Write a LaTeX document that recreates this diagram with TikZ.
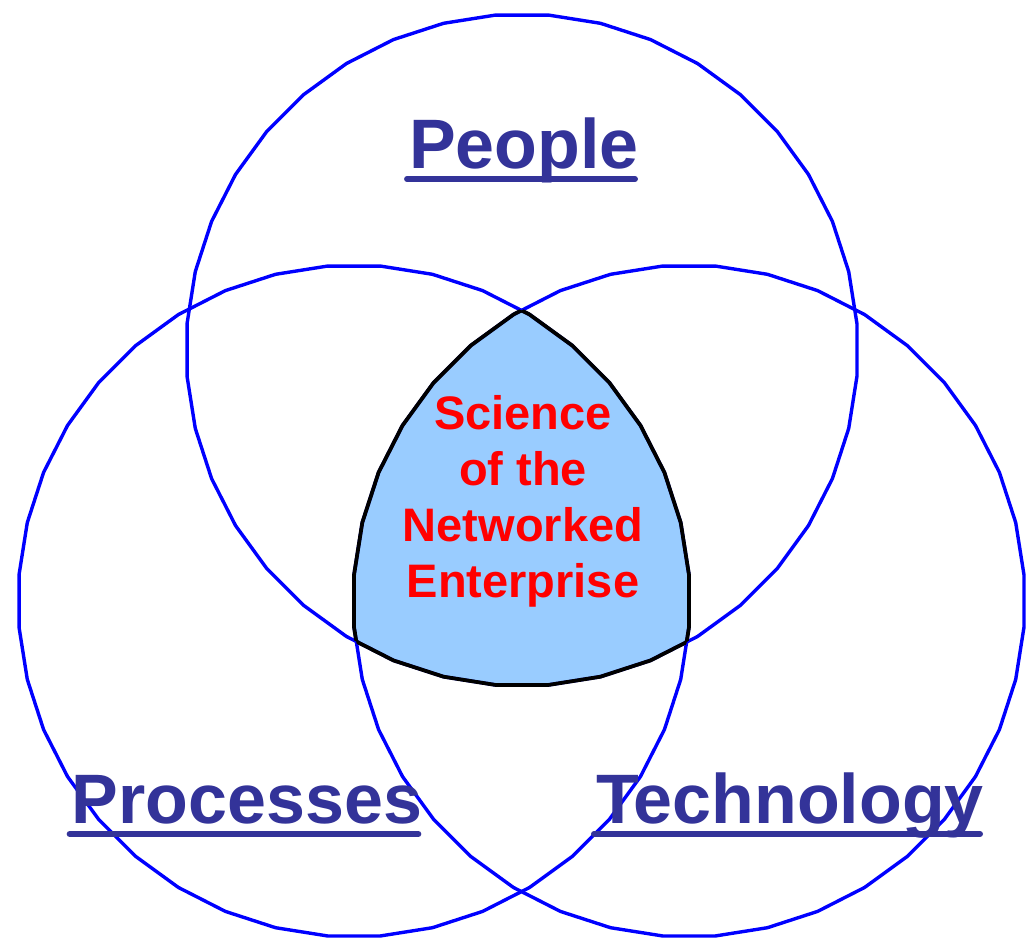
\documentclass[tikz,border=0pt]{standalone}
\usepackage{fontspec}
\setmainfont{Liberation Sans}
\definecolor{ringblue}{HTML}{0000FF}
\definecolor{labblue}{HTML}{333399}
\definecolor{corefill}{HTML}{99CCFF}
\definecolor{corered}{HTML}{FF0000}
\newcommand\vennpoly[2]{plot[samples=41,domain=4.5:364.5,variable=\t]({#1+336*cos(\t)},{#2+336*sin(\t)})}
\begin{document}
\begin{tikzpicture}[x=1pt,y=-1pt,
  ring/.style={draw=ringblue,line width=3.4pt,line join=round},
  edge/.style={draw=black,line width=3.8pt,line join=round},
  lab/.style={text=labblue,font=\fontsize{70}{80}\selectfont\bfseries,inner sep=0pt,anchor=base},
  ul/.style={draw=labblue,line width=6pt,line cap=round},
  core/.style={text=corered,font=\fontsize{47}{56}\selectfont\bfseries,align=center,inner sep=0pt,anchor=north}]
\useasboundingbox (0,0) rectangle (1026,948);
\fill[white] (0,0) rectangle (1026,948);
% filled core region
\begin{scope}
  \clip \vennpoly{522}{350} -- cycle;
  \clip \vennpoly{354}{601} -- cycle;
  \fill[corefill] \vennpoly{689}{601} -- cycle;
\end{scope}
% circles
\draw[ring] \vennpoly{522}{350} -- cycle;
\draw[ring] \vennpoly{354}{601} -- cycle;
\draw[ring] \vennpoly{689}{601} -- cycle;
% black outline of the core
\begin{scope}
  \clip \vennpoly{522}{350} -- cycle;
  \clip \vennpoly{354}{601} -- cycle;
  \draw[edge] \vennpoly{689}{601} -- cycle;
\end{scope}
\begin{scope}
  \clip \vennpoly{522}{350} -- cycle;
  \clip \vennpoly{689}{601} -- cycle;
  \draw[edge] \vennpoly{354}{601} -- cycle;
\end{scope}
\begin{scope}
  \clip \vennpoly{354}{601} -- cycle;
  \clip \vennpoly{689}{601} -- cycle;
  \draw[edge] \vennpoly{522}{350} -- cycle;
\end{scope}
% labels
\node[lab] (people) at (524,168) {People};
\node[lab] (proc) at (247,823) {Processes};
\node[lab] (tech) at (790,823) {Technology};
\draw[ul] ([xshift=-2pt,yshift=-11pt]people.base west) -- ([xshift=-4pt,yshift=-11pt]people.base east);
\draw[ul] ([xshift=-2pt,yshift=-11pt]proc.base west) -- ([xshift=-4pt,yshift=-11pt]proc.base east);
\draw[ul] ([xshift=-2pt,yshift=-11pt]tech.base west) -- ([xshift=-4pt,yshift=-11pt]tech.base east);
\node[core] (sne) at (523,395) {Science\\of the\\Networked\\Enterprise};
\end{tikzpicture}
\end{document}
